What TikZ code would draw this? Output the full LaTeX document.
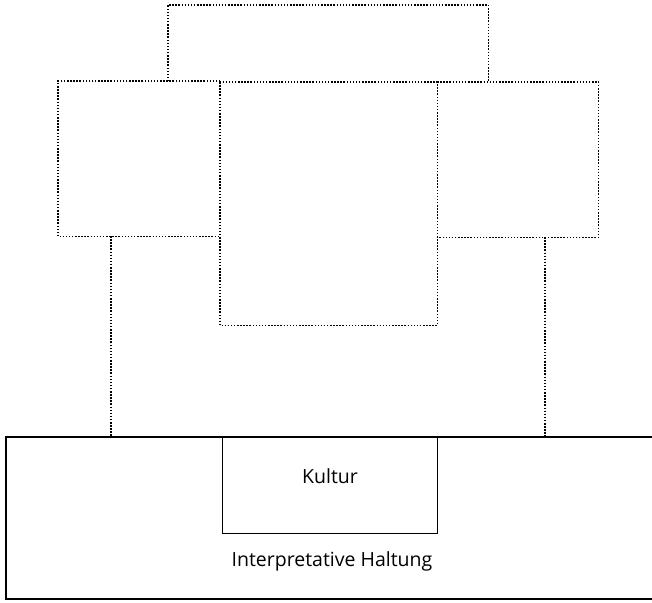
\documentclass[tikz,border=0pt]{standalone}
\usepackage{fontspec}
\setmainfont{Open Sans}
\begin{document}
\begin{tikzpicture}[x=1pt,y=-1pt,
  area/.style={inner sep=0pt, anchor=north west},
  dotline/.style={draw=black, line width=1.6pt, dash pattern=on 1.5pt off 1.6pt},
  solidline/.style={draw=black, line width=1.1pt},
  lbl/.style={font=\fontsize{19.5}{23}\selectfont, inner sep=0pt, anchor=base}]
\useasboundingbox (0,0) rectangle (652,602);
% dotted boxes (shared edges drawn once)
\node[area, minimum width=320pt, minimum height=76pt] (top) at (168,5) {};
\node[area, minimum width=162pt, minimum height=155pt] (left) at (58,81) {};
\node[area, minimum width=161pt, minimum height=155pt] (right) at (437,82) {};
\node[area, minimum width=217pt, minimum height=243pt] (center) at (220,82) {};
\draw[dotline] (top.south west) -- (top.north west) -- (top.north east) -- (top.south east);
\draw[dotline] (left.north east) -- (left.north west) -- (left.south west) -- (left.south east);
\draw[dotline] (right.north west) -- (right.north east) -- (right.south east) -- (right.south west);
\draw[dotline] (center.north west) rectangle (center.south east);
% bottom frame (open on the right)
\coordinate (btl) at (6,437);
\coordinate (btr) at (652,437);
\coordinate (bbl) at (6,599);
\coordinate (bbr) at (652,599);
\draw[solidline] (btr) -- (btl) -- (bbl) -- (bbr);
% Kultur box
\node[draw=black, line width=1.2pt, inner sep=0pt, anchor=north west,
      minimum width=215pt, minimum height=96pt] (kultur) at (222,437) {};
\node[lbl] (kt) at (330,483) {Kultur};
\node[lbl] (ih) at (332,566) {Interpretative Haltung};
% connectors
\coordinate (lc) at (111,236);
\coordinate (rc) at (545,237);
\draw[dotline] (lc) -- (lc |- btl);
\draw[dotline] (rc) -- (rc |- btl);
\end{tikzpicture}
\end{document}
